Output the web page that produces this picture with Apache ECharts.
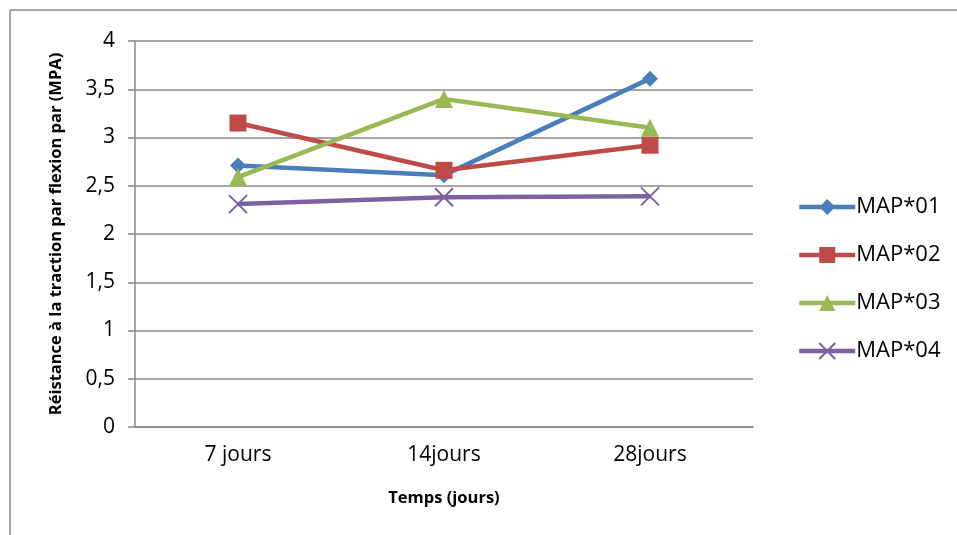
<!DOCTYPE html>
<html><head><meta charset="utf-8">
<script src="https://cdn.jsdelivr.net/npm/echarts@6/dist/echarts.min.js"></script>
<style>html,body{margin:0;padding:0;background:#fff}#c{width:957px;height:535px}</style>
</head><body><div id="c"></div>
<script>
const categories = ['7 jours', '14jours', '28jours'];
const map01 = [2.71, 2.61, 3.61];
const map02 = [3.15, 2.66, 2.92];
const map03 = [2.59, 3.40, 3.10];
const map04 = [2.31, 2.38, 2.39];
const seriesNames = ['MAP*01', 'MAP*02', 'MAP*03', 'MAP*04'];
const colors = ['#4a7ebb', '#be4b48', '#98b954', '#7d60a0'];
const font = '"Open Sans", "Liberation Sans", sans-serif';
const crossPath = 'path://M0,0L10,10M10,0L0,10';
const symbols = ['diamond', 'rect', 'triangle', crossPath];
const symSizes = [16, 17, 18, 18];
const dataSets = [map01, map02, map03, map04];

const chart = echarts.init(document.getElementById('c'));
chart.setOption({
  animation: false,
  backgroundColor: '#fff',
  graphic: [
    {type: 'line', shape: {x1: 10, y1: 10, x2: 957, y2: 10}, style: {stroke: '#888', lineWidth: 1.5}},
    {type: 'line', shape: {x1: 10, y1: 10, x2: 10, y2: 535}, style: {stroke: '#888', lineWidth: 1.5}}
  ],
  grid: {left: 135, right: 204, top: 41, bottom: 108},
  legend: {
    orient: 'vertical', left: 792, top: 190, itemWidth: 56, itemHeight: 20, itemGap: 24,
    lineStyle: {width: 4.5},
    textStyle: {fontFamily: font, fontSize: 22, lineHeight: 24, color: '#000', padding: [0, 0, 0, -4]},
    data: seriesNames
  },
  xAxis: {
    type: 'category', data: categories, boundaryGap: true,
    axisLine: {lineStyle: {color: '#888', width: 1.5}},
    axisTick: {show: false},
    axisLabel: {fontFamily: font, fontSize: 21, color: '#000', margin: 18},
    name: 'Temps (jours)', nameLocation: 'middle', nameGap: 63,
    nameTextStyle: {fontFamily: font, fontSize: 16.5, fontWeight: 'bold', color: '#000'}
  },
  yAxis: {
    type: 'value', min: 0, max: 4, interval: 0.5,
    axisLine: {show: true, lineStyle: {color: '#888', width: 1.5}},
    axisTick: {show: true, length: 7, lineStyle: {color: '#888', width: 1.5}},
    splitLine: {lineStyle: {color: '#888', width: 1.5}},
    axisLabel: {fontFamily: font, fontSize: 21, color: '#000', margin: 20,
      formatter: v => String(v).replace('.', ',')},
    name: 'Réistance à la traction par flexion par (MPA)', nameLocation: 'middle', nameGap: 70,
    nameTextStyle: {fontFamily: font, fontSize: 16.5, fontWeight: 'bold', color: '#000'}
  },
  series: seriesNames.map((n, i) => ({
    name: n, type: 'line', data: dataSets[i],
    symbol: symbols[i], symbolSize: symSizes[i],
    lineStyle: {color: colors[i], width: 4.5},
    itemStyle: i === 3 ? {color: 'rgba(0,0,0,0)', borderColor: colors[i], borderWidth: 2} : {color: colors[i], borderWidth: 0},
    emphasis: {disabled: true}
  }))
});
</script></body></html>
